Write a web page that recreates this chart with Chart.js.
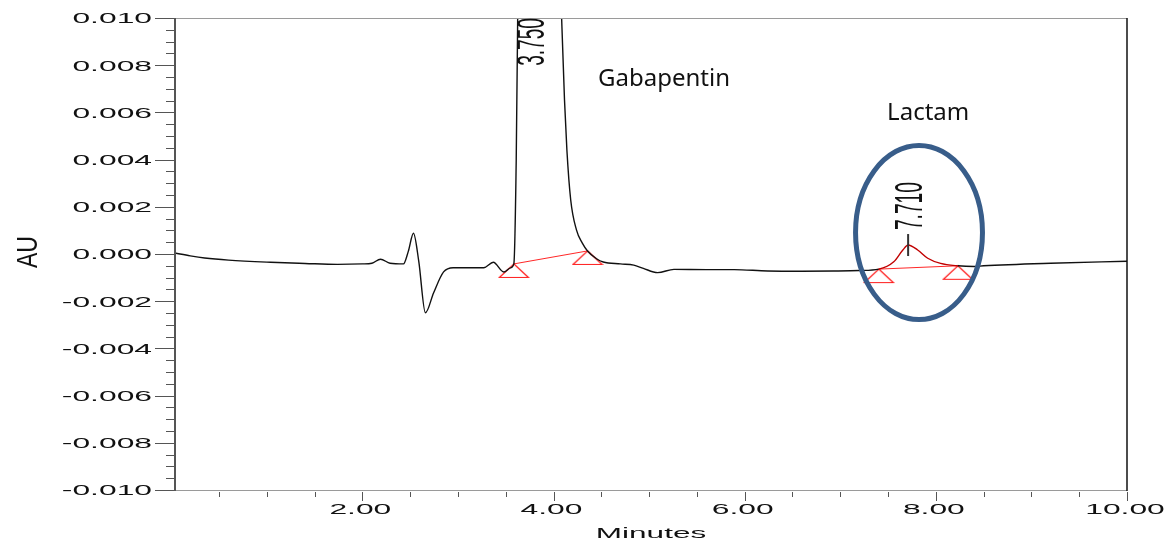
<!DOCTYPE html>
<html>
<head>
<meta charset="utf-8">
<script src="https://cdn.jsdelivr.net/npm/chart.js@4.4.1/dist/chart.umd.min.js"></script>
<style>
  html, body { margin: 0; padding: 0; background: #fff; }
</style>
</head>
<body>
<canvas id="myChart" width="1170" height="541"></canvas>
<script>
// retention time (min) and detector response (AU)
const times = [
  0.04, 0.20, 0.35, 0.60, 1.04, 1.40, 1.74, 2.00, 2.10, 2.19, 2.29, 2.43,
  2.48, 2.535, 2.59, 2.66, 2.745, 2.85, 2.95, 3.27, 3.37, 3.48, 3.55, 3.585,
  3.61, 3.63, 3.68, 3.75, 3.85, 3.97, 4.05, 4.085, 4.115, 4.14, 4.18, 4.24,
  4.30, 4.356, 4.45, 4.52, 4.70, 4.84, 4.94, 5.09, 5.26, 5.60, 5.89, 6.24,
  6.60, 6.93, 7.20, 7.403, 7.56, 7.655, 7.71, 7.81, 7.915, 8.05, 8.23, 8.40,
  8.50, 9.20, 10.0,
]
const signal = [
  0.00004, -0.00008, -0.00017, -0.00026, -0.00035, -0.00040, -0.00044, -0.00042, -0.00039, -0.00022, -0.00039, -0.00042,
  0.00010, 0.00088, -0.00030, -0.00249, -0.00165, -0.00076, -0.00058, -0.00058, -0.00035, -0.00076, -0.00059, -0.00042,
  0.00400, 0.01200, 0.03000, 0.05200, 0.04500, 0.02600, 0.01450, 0.01000, 0.00653, 0.00441, 0.00229, 0.00102,
  0.00047, 0.00013, -0.00020, -0.00034, -0.00042, -0.00047, -0.00061, -0.00079, -0.00065, -0.00066, -0.00066, -0.00072,
  -0.00073, -0.00072, -0.00070, -0.00064, -0.00033, 0.00017, 0.00038, 0.00017, -0.00018, -0.00040, -0.00050, -0.00053,
  -0.00050, -0.00039, -0.00031,
]

// integrated peaks
const peakNames = ['3.750', '7.710']
const peakApex = [3.75, 7.71]
const peakApexAU = [0.052, 0.00038]
const peakStart = [3.585, 7.403]
const peakStartAU = [-0.00042, -0.00064]
const peakEnd = [4.356, 8.23]
const peakEndAU = [0.00013, -0.00050]

// axis ticks
const xTickLabels = ['2.00', '4.00', '6.00', '8.00', '10.00']
const yTickLabels = ['0.010', '0.008', '0.006', '0.004', '0.002', '0.000',
  '-0.002', '-0.004', '-0.006', '-0.008', '-0.010']

// annotations (data coordinates)
const notes = [
  { text: 'Gabapentin', x: 4.466, y: 0.00712 },
  { text: 'Lactam', x: 7.49, y: 0.00568 },
]
const circled = { x: 7.824, y: 0.00091, rx: 0.664, ry: 0.00369 }

const trace = times.map((t, i) => ({ x: t, y: signal[i] }))
const lactamFrom = peakStart[1], lactamTo = peakEnd[1]

// red triangle marker, apex at the point
const tri = document.createElement('canvas')
tri.width = 32
tri.height = 32
const tc = tri.getContext('2d')
tc.strokeStyle = 'rgba(255,0,0,0.9)'
tc.lineWidth = 1.2
tc.beginPath()
tc.moveTo(16, 16)
tc.lineTo(30.5, 29.5)
tc.lineTo(1.5, 29.5)
tc.closePath()
tc.stroke()

const baselineSets = peakStart.map((s, i) => ({
  label: 'baseline ' + peakNames[i],
  data: [{ x: s, y: peakStartAU[i] }, { x: peakEnd[i], y: peakEndAU[i] }],
  borderColor: 'rgba(255,0,0,0.85)',
  borderWidth: 1,
  pointStyle: tri,
  pointRadius: 6,
}))

function wideText(ctx, text, x, y, sx, align) {
  ctx.save()
  ctx.translate(x, y)
  ctx.scale(sx, 1)
  ctx.textAlign = align
  ctx.fillText(text, 0, 0)
  ctx.restore()
}

const empowerAxes = {
  id: 'empowerAxes',
  afterDatasetsDraw(chart) {
    const ctx = chart.ctx
    const xs = chart.scales.x
    const ys = chart.scales.y
    const a = chart.chartArea
    ctx.save()

    // frame
    ctx.lineWidth = 1
    ctx.strokeStyle = '#9a9a9a'
    ctx.beginPath()
    ctx.moveTo(155, a.top + 0.5); ctx.lineTo(a.right, a.top + 0.5)
    ctx.moveTo(155, a.bottom + 0.5); ctx.lineTo(a.right, a.bottom + 0.5)
    ctx.stroke()
    ctx.strokeStyle = '#111'
    ctx.lineWidth = 1.5
    ctx.beginPath()
    ctx.moveTo(a.right, a.top); ctx.lineTo(a.right, a.bottom + 1)
    ctx.stroke()
    ctx.strokeStyle = '#555'
    ctx.lineWidth = 2
    ctx.beginPath()
    ctx.moveTo(a.left, a.top); ctx.lineTo(a.left, a.bottom + 1)
    ctx.stroke()

    // y ticks
    ctx.lineWidth = 1
    ctx.strokeStyle = '#555'
    ctx.beginPath()
    for (let v = -0.010; v <= 0.01001; v += 0.0005) {
      const py = Math.round(ys.getPixelForValue(v)) + 0.5
      const major = Math.abs(Math.round(v / 0.002) * 0.002 - v) < 1e-7
      ctx.moveTo(major ? 155 : 166, py)
      ctx.lineTo(a.left, py)
    }
    // x ticks
    for (let t = 0.5; t <= 10.001; t += 0.5) {
      const px = Math.round(xs.getPixelForValue(t)) + 0.5
      const major = Math.abs(t % 2) < 1e-6
      ctx.moveTo(px, a.bottom + 2)
      ctx.lineTo(px, a.bottom + (major ? 11 : 7))
    }
    ctx.stroke()

    // tick labels
    ctx.fillStyle = '#111'
    ctx.font = '15px "Liberation Sans", Arial, sans-serif'
    ctx.textBaseline = 'alphabetic'
    yTickLabels.forEach(l => {
      const py = ys.getPixelForValue(parseFloat(l))
      wideText(ctx, l, 152, py + 5.4, 2.12, 'right')
    })
    xTickLabels.forEach(l => {
      const px = xs.getPixelForValue(parseFloat(l))
      wideText(ctx, l, px - 2, a.bottom + 24, 2.12, 'center')
    })
    wideText(ctx, 'Minutes', (a.left + a.right) / 2, 538, 2.1, 'center')

    // AU axis title
    ctx.save()
    ctx.translate(37, (a.top + a.bottom) / 2 - 2)
    ctx.rotate(-Math.PI / 2)
    ctx.scale(0.77, 1)
    ctx.font = '30px "Liberation Sans", Arial, sans-serif'
    ctx.textAlign = 'center'
    ctx.fillText('AU', 0, 0)
    ctx.restore()

    // peak labels
    ctx.font = '39px "Liberation Sans", Arial, sans-serif'
    peakNames.forEach((name, i) => {
      const px = xs.getPixelForValue(peakApex[i])
      const py = ys.getPixelForValue(peakApexAU[i])
      const len = ctx.measureText(name).width * 0.49
      let bottom = py - 15
      if (bottom - len < a.top) bottom = a.top + len
      ctx.save()
      ctx.translate(px + 14, bottom)
      ctx.rotate(-Math.PI / 2)
      ctx.scale(0.49, 1)
      ctx.textAlign = 'left'
      ctx.fillText(name, 0, 0)
      ctx.restore()
      if (py > a.top) {
        ctx.strokeStyle = '#333'
        ctx.lineWidth = 2
        ctx.beginPath()
        ctx.moveTo(px, py - 11)
        ctx.lineTo(px, py + 11)
        ctx.stroke()
      }
    })

    // annotations
    ctx.font = '24px "Noto Sans", sans-serif'
    ctx.textAlign = 'left'
    notes.forEach(n => {
      ctx.fillText(n.text, xs.getPixelForValue(n.x), ys.getPixelForValue(n.y))
    })
    const cx = xs.getPixelForValue(circled.x)
    const cy = ys.getPixelForValue(circled.y)
    const rx = xs.getPixelForValue(circled.x + circled.rx) - cx
    const ry = cy - ys.getPixelForValue(circled.y + circled.ry)
    ctx.strokeStyle = '#385d8a'
    ctx.lineWidth = 5
    ctx.beginPath()
    ctx.ellipse(cx, cy, rx, ry, 0, 0, Math.PI * 2)
    ctx.stroke()

    ctx.restore()
  },
}

const config = {
  type: 'line',
  data: {
    datasets: [
      {
        label: 'AU',
        data: trace,
        borderColor: '#111',
        borderWidth: 1.4,
        pointRadius: 0,
        cubicInterpolationMode: 'monotone',
        segment: {
          borderColor: c => (c.p0.parsed.x >= lactamFrom - 0.01 && c.p1.parsed.x <= lactamTo + 0.01 ? '#c00000' : undefined),
        },
      },
      ...baselineSets,
    ],
  },
  options: {
    responsive: false,
    animation: false,
    devicePixelRatio: 1,
    layout: { padding: { left: 175, right: 43, top: 18, bottom: 51 } },
    scales: {
      x: { type: 'linear', min: 0.04, max: 10, display: false },
      y: { type: 'linear', min: -0.010, max: 0.010, display: false },
    },
    plugins: {
      legend: { display: false },
      tooltip: { enabled: false },
    },
  },
  plugins: [empowerAxes],
}

var myChart = new Chart(document.getElementById('myChart'), config)
</script>
</body>
</html>
